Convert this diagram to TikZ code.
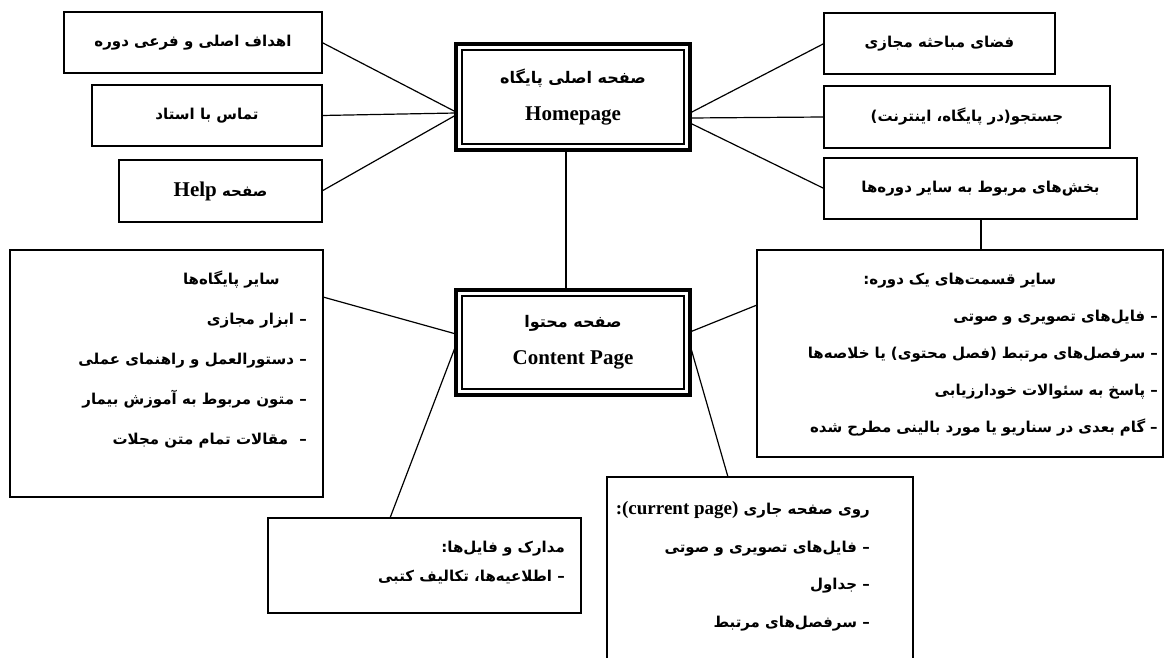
\documentclass[tikz,border=0pt]{standalone}
\usepackage{fontspec}
\setmainfont{Liberation Serif}
\newfontfamily\arfont[Script=Arabic]{DejaVu Sans}
\TeXXeTstate=1
\newcommand{\pers}[1]{{\arfont\bfseries\beginR #1\endR}}
\newcommand{\lat}[1]{{\rmfamily\bfseries\fontsize{21}{21}\selectfont #1}}
\newcommand{\latsm}[1]{{\rmfamily\bfseries\fontsize{19}{19}\selectfont #1}}
\begin{document}
\begin{tikzpicture}[x=1pt,y=-1pt,
  box/.style={draw, line width=1.2pt, inner sep=0pt, outer sep=0pt, anchor=north west, align=center,
    font=\fontsize{15}{18}\selectfont},
  mainbox/.style={draw, line width=4pt, inner sep=0pt, outer sep=0pt, anchor=north west, align=center,
    font=\fontsize{16}{37}\selectfont},
  innerline/.style={draw, line width=1.5pt},
  listtxt/.style={anchor=base east, align=right, inner sep=0pt},
  conn/.style={draw, line width=1.2pt}
]
\useasboundingbox (0,0) rectangle (1165,658);
\clip (0,0) rectangle (1165,658);

% main boxes
\node[mainbox, minimum width=234pt, minimum height=106pt] (H) at (456,44)
  {\pers{صفحه اصلی پایگاه}\\\lat{Homepage}};
\draw[innerline] ([xshift=6pt,yshift=-6pt]H.north west) rectangle ([xshift=-6pt,yshift=6pt]H.south east);
\node[mainbox, minimum width=234pt, minimum height=105pt] (C) at (456,290)
  {\pers{صفحه محتوا}\\\lat{Content Page}};
\draw[innerline] ([xshift=6pt,yshift=-6pt]C.north west) rectangle ([xshift=-6pt,yshift=6pt]C.south east);

% top left
\node[box, minimum width=258pt, minimum height=61pt] (L1) at (64,12) {\pers{اهداف اصلی و فرعی دوره}};
\node[box, minimum width=230pt, minimum height=61pt] (L2) at (92,85) {\pers{تماس با استاد}};
\node[box, minimum width=203pt, minimum height=62pt] (L3) at (119,160) {\pers{صفحه \beginL\lat{Help}\endL}};

% top right
\node[box, minimum width=231pt, minimum height=61pt] (R1) at (824,13) {\pers{فضای مباحثه مجازی}};
\node[box, minimum width=286pt, minimum height=62pt] (R2) at (824,86)
  {\pers{جستجو\beginL)\beginR در پایگاه، اینترنت\endR(\endL}};
\node[box, minimum width=313pt, minimum height=61pt] (R3) at (824,158) {\pers{بخش^^^^200cهای مربوط به سایر دوره^^^^200cها}};

% big boxes
\node[box, minimum width=313pt, minimum height=247pt] (LB) at (10,250) {};
\node[listtxt, font=\fontsize{15}{40}\selectfont] (LBt) at (307,444)
  {\pers{سایر پایگاه^^^^200cها}\hspace*{27pt}\\
   \pers{– ابزار مجازی}\\
   \pers{– دستورالعمل و راهنمای عملی}\\
   \pers{– متون مربوط به آموزش بیمار}\\
   \pers{–\hspace{6pt} مقالات تمام متن مجلات}};

\node[box, minimum width=406pt, minimum height=207pt] (RB) at (757,250) {};
\node[listtxt, font=\fontsize{15}{37}\selectfont, text width=396pt] (RBt) at (1158,284)
  {\makebox[396pt]{\pers{سایر قسمت^^^^200cهای یک دوره:}}\\
   \pers{– فایل^^^^200cهای تصویری و صوتی}\\
   \pers{– سرفصل^^^^200cهای مرتبط \beginL)\beginR فصل محتوی\endR(\endL{} یا خلاصه^^^^200cها}\\
   \pers{– پاسخ به سئوالات خودارزیابی}\\
   \pers{– گام بعدی در سناریو یا مورد بالینی مطرح شده}};

\node[box, minimum width=313pt, minimum height=95pt] (M) at (268,518) {};
\node[listtxt, font=\fontsize{15}{29}\selectfont] (Mt) at (565,581)
  {\pers{مدارک و فایل^^^^200cها:}\\
   \pers{– اطلاعیه^^^^200cها، تکالیف کتبی}};

\node[box, minimum width=306pt, minimum height=220pt] (CP) at (607,477) {};
\node[listtxt, font=\fontsize{15}{37.5}\selectfont] (CPt) at (870,627)
  {\pers{روی صفحه جاری \beginL\latsm{:(current page)}\endL}\\
   \pers{– فایل^^^^200cهای تصویری و صوتی}\\
   \pers{– جداول}\\
   \pers{– سرفصل^^^^200cهای مرتبط}};

% connectors
\draw[conn] (L1.east) -- ([yshift=-15pt]H.west);
\draw[conn] (L2.east) -- ([yshift=-16pt]H.west);
\draw[conn] (L3.east) -- ([yshift=-18pt]H.west);
\draw[conn] ([yshift=-16pt]H.east) -- (R1.west);
\draw[conn] ([yshift=-21pt]H.east) -- (R2.west);
\draw[conn] ([yshift=-26pt]H.east) -- (R3.west);
\draw[conn] ([xshift=-7pt]H.south) -- ([xshift=-7pt]C.north);
\draw[conn] ([xshift=0.5pt]R3.south) -- ([xshift=0.5pt]R3.south |- RB.north);
\draw[conn] ([yshift=-47pt]LB.north east) -- ([yshift=-44pt]C.north west);
\draw[conn] ([yshift=-42pt]C.north east) -- ([yshift=-55pt]RB.north west);
\draw[conn] ([yshift=-55pt]C.north west) -- ([xshift=122pt]M.north west);
\draw[conn] ([yshift=-55pt]C.north east) -- ([xshift=121pt]CP.north west);
\end{tikzpicture}
\end{document}
